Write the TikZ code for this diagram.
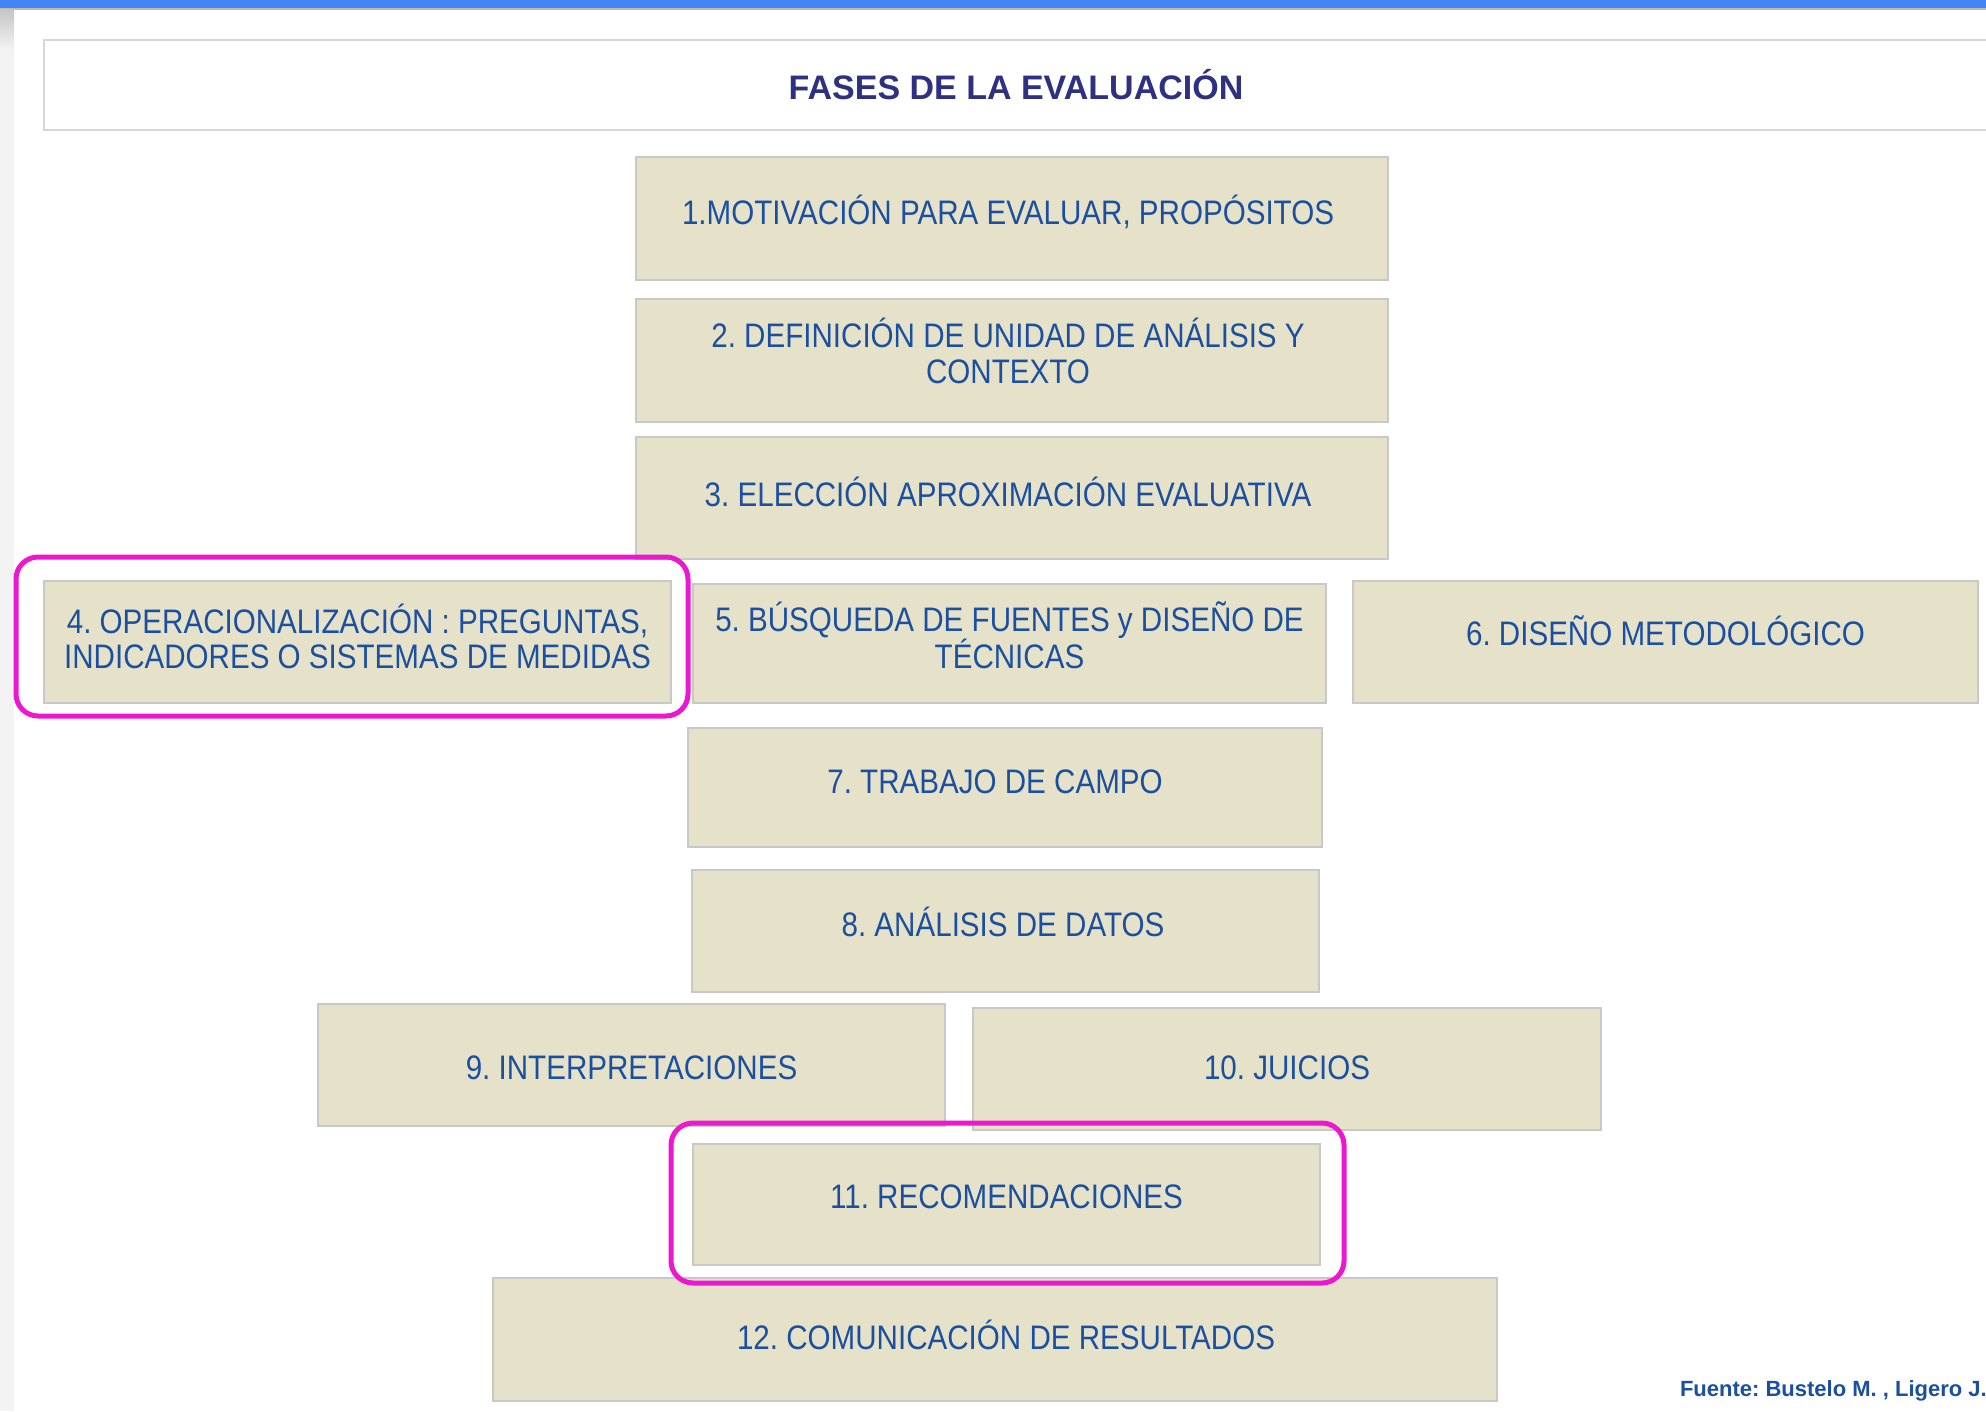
\documentclass[tikz,border=0pt]{standalone}
\usepackage{fontspec}
\setmainfont{Liberation Sans}
\newfontfamily\phasefont[FakeStretch=0.87]{Liberation Sans}
\newfontfamily\titlefont{Liberation Sans}
\frenchspacing
\definecolor{barblue}{HTML}{4285F4}
\definecolor{stripgray}{HTML}{F3F3F3}
\definecolor{titleline}{HTML}{D6D6DE}
\definecolor{titleink}{HTML}{2E3180}
\definecolor{boxfill}{HTML}{E6E2C9}
\definecolor{boxline}{HTML}{C8C8C8}
\definecolor{boxink}{HTML}{1B4F9F}
\definecolor{hilite}{HTML}{EC18D0}
\tikzset{
  phase/.style={draw=boxline, fill=boxfill, line width=1.3pt, text=boxink,
    font=\phasefont\fontsize{34}{35.5}\selectfont\frenchspacing, align=center, inner sep=0pt,
    text height=24pt, text depth=0pt},
  phasetwo/.style={phase, text height=59.5pt},
  txtup/.style={text depth=#1},
  txtdown/.style={text height=#1},
  hibox/.style={draw=hilite, line width=5pt, rounded corners=22pt},
}
\begin{document}
\begin{tikzpicture}[x=1pt,y=-1pt]
\useasboundingbox (0,0) rectangle (1986,1411);
\clip (0,0) rectangle (1986,1411);
\fill[white] (0,0) rectangle (1986,1411);
% top bar and left strip
\fill[barblue] (0,0) rectangle (1986,8);
\fill[gray!55] (0,8) rectangle (1986,9.5);
\fill[stripgray] (0,9.5) rectangle (14,1411);
\shade[top color=gray!45, bottom color=stripgray] (0,9.5) rectangle (14,50);
% title
\draw[titleline, line width=1.5pt, fill=white] (44,40) rectangle (2010,130);
\node[font=\titlefont\bfseries\fontsize{34}{36}\selectfont, text=titleink,
  inner sep=0pt, text height=24.3pt, text depth=0pt] (title) at (1016,87) {FASES DE LA EVALUACIÓN};
% phases
\node[phase, txtup=11.4pt, minimum width=752pt, minimum height=123pt] (p1) at (1012,218.5) {1.MOTIVACIÓN PARA EVALUAR, PROPÓSITOS\hspace*{8pt}};
\node[phasetwo, txtup=14pt, minimum width=752pt, minimum height=123pt] (p2) at (1012,360.5) {2. DEFINICIÓN DE UNIDAD DE ANÁLISIS Y\hspace*{8pt}\\CONTEXTO\hspace*{8pt}};
\node[phase, txtup=7.6pt, minimum width=752pt, minimum height=122pt] (p3) at (1012,498) {3. ELECCIÓN APROXIMACIÓN EVALUATIVA\hspace*{8pt}};
\node[phasetwo, txtup=6.4pt, minimum width=627pt, minimum height=122pt] (p4) at (357.5,642) {4. OPERACIONALIZACIÓN : PREGUNTAS,\\INDICADORES O SISTEMAS DE MEDIDAS};
\node[phasetwo, txtup=8.9pt, minimum width=633pt, minimum height=119pt] (p5) at (1009.5,643.5) {5. BÚSQUEDA DE FUENTES y DISEÑO DE\\TÉCNICAS};
\node[phase, txtup=17.8pt, minimum width=625pt, minimum height=122pt] (p6) at (1665.5,642) {6. DISEÑO METODOLÓGICO};
\node[phase, txtup=12.6pt, minimum width=634pt, minimum height=119pt] (p7) at (1005,787.5) {7. TRABAJO DE CAMPO\hspace*{20pt}};
\node[phase, txtup=12.6pt, minimum width=627pt, minimum height=122pt] (p8) at (1005.5,931) {8. ANÁLISIS DE DATOS\hspace*{5pt}};
\node[phase, txtdown=29pt, minimum width=627pt, minimum height=122pt] (p9) at (631.5,1065) {9. INTERPRETACIONES};
\node[phase, txtup=2.6pt, minimum width=628pt, minimum height=122pt] (p10) at (1287,1069) {10. JUICIOS};
\node[phase, txtup=15.2pt, minimum width=627pt, minimum height=121pt] (p11) at (1006.5,1204.5) {11. RECOMENDACIONES};
\node[phase, txtup=3.8pt, minimum width=1004pt, minimum height=123pt] (p12) at (995,1339.5) {\hspace*{22pt}12. COMUNICACIÓN DE RESULTADOS};
% highlights
\draw[hibox] (16,557) rectangle (688,716);
\draw[hibox] (671,1123) rectangle (1344,1283);
% source
\node[anchor=east, font=\titlefont\bfseries\fontsize{22}{24}\selectfont\frenchspacing, text=boxink,
  inner sep=0pt, text height=16pt, text depth=0pt] (src) at (1987,1388) {Fuente: Bustelo M. , Ligero J.};
\end{tikzpicture}
\end{document}
